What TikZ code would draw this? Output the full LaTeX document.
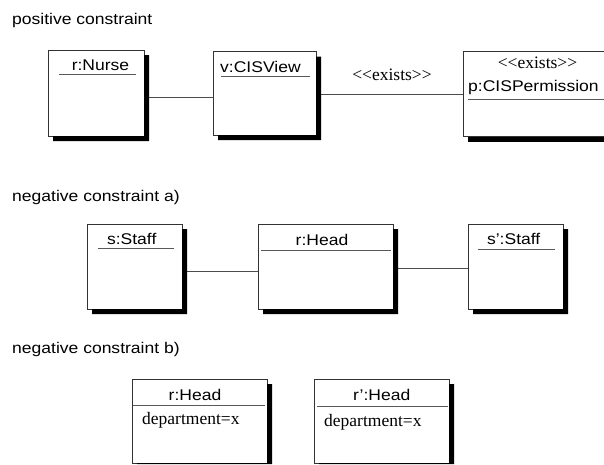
\documentclass[tikz,border=0pt]{standalone}
\usepackage{fontspec}
\setmainfont{Liberation Sans}[FakeStretch=1.13]
\newfontfamily\serifface{Liberation Serif}
\usetikzlibrary{backgrounds}
\newcommand\lbltext{\fontsize{15.5}{18}\selectfont}
\newcommand\attrtext{\serifface\fontsize{17.5}{20}\selectfont}
\newcommand\stereo{\symbol{60}\symbol{60}exists\symbol{62}\symbol{62}}
\begin{document}
\begin{tikzpicture}[x=1pt,y=-1pt,
  objbox/.style={rectangle, draw=black!80, line width=0.9pt, fill=white,
    inner sep=0pt, outer sep=0pt, anchor=north west},
  uline/.style={draw=black!65, line width=1pt},
  link/.style={draw=black!70, line width=0.9pt},
  lbl/.style={font=\lbltext, inner sep=0pt, anchor=base},
  lblw/.style={font=\lbltext, inner sep=0pt, anchor=base west},
  attr/.style={font=\attrtext, inner sep=0pt, anchor=base west},
  stereotype/.style={font=\attrtext, inner sep=0pt, anchor=base},
  title/.style={font=\lbltext, inner sep=0pt, anchor=base west}]

\useasboundingbox (0,0) rectangle (604,464);

% section titles
\node[title] (t1) at (12,24) {positive constraint};
\node[title] (t2) at (12,201) {negative constraint a)};
\node[title] (t3) at (12,353) {negative constraint b)};

% positive constraint
\node[objbox, minimum width=96pt, minimum height=86pt] (nurse) at (48,50) {};
\node[objbox, minimum width=103pt, minimum height=83.5pt] (view) at (213,51.5) {};
\node[objbox, minimum width=141pt, minimum height=85.5pt] (perm) at (463,51) {};

\node[lbl] (nurseL) at (100.5,70.7) {r:Nurse};
\draw[uline] (59,74) -- (136,74);
\node[lblw] (viewL) at (220,72.7) {v:CISView};
\draw[uline] (221,76) -- (310,76);
\node[stereotype] (permS) at (537.5,68.3) {\stereo};
\node[lblw] (permL) at (468,91.7) {p:CISPermission};
\draw[uline] (468,99) -- (604,99);

\coordinate (ya) at (0,97.3);
\coordinate (yb) at (0,94.3);
\node[stereotype] (linkS) at (392,80.7) {\stereo};

% negative constraint a)
\node[objbox, minimum width=95pt, minimum height=85pt] (staff) at (87,224) {};
\node[objbox, minimum width=135pt, minimum height=85pt] (head) at (258,224) {};
\node[objbox, minimum width=95pt, minimum height=85pt] (staff2) at (468,224) {};

\node[lbl] (staffL) at (131.7,244) {s:Staff};
\draw[uline] (98,248.5) -- (174,248.5);
\node[lbl] (headL) at (322,245) {r:Head};
\draw[uline] (261,250) -- (391,250);
\node[lbl] (staff2L) at (513.7,244) {s'{}:Staff};
\draw[uline] (478,249) -- (555,249);

\coordinate (yc) at (0,271.7);
\coordinate (yd) at (0,268.3);

% negative constraint b)
\node[objbox, minimum width=135pt, minimum height=84pt] (headA) at (132,379) {};
\node[objbox, minimum width=135pt, minimum height=84pt] (headB) at (314,379) {};

\node[lbl] (headAL) at (195,400) {r:Head};
\draw[uline] (133,405.5) -- (265,405.5);
\node[attr] (headAD) at (142,424) {department=x};
\node[lbl] (headBL) at (381.7,400.7) {r'{}:Head};
\draw[uline] (317,406) -- (448,406);
\node[attr] (headBD) at (324,426) {department=x};

% shadow bands along the right and bottom edges of each box
\fill[black] (144,55) rectangle (149,141) (53,136) rectangle (149,141);
\fill[black] (316,56.5) rectangle (321,140) (218,135) rectangle (321,140);
\fill[black] (468,136.5) rectangle (604,141.5);
\fill[black] (182,229) rectangle (187,314) (92,309) rectangle (187,314);
\fill[black] (393,229) rectangle (398,314) (263,309) rectangle (398,314);
\fill[black] (563,229) rectangle (568,314) (473,309) rectangle (568,314);
\fill[black] (267,384) rectangle (272,464) (137,463) rectangle (272,464);
\fill[black] (449,384) rectangle (454,464) (319,463) rectangle (454,464);

% page and links, behind the boxes
\begin{pgfonlayer}{background}
  \fill[white] (0,0) rectangle (604,464);
  \draw[link] (nurse.east |- ya) -- (view.west |- ya);
  \draw[link] (view.east |- yb) -- (perm.west |- yb);
  \draw[link] (staff.east |- yc) -- (head.west |- yc);
  \draw[link] (head.east |- yd) -- (staff2.west |- yd);
\end{pgfonlayer}
\end{tikzpicture}
\end{document}
